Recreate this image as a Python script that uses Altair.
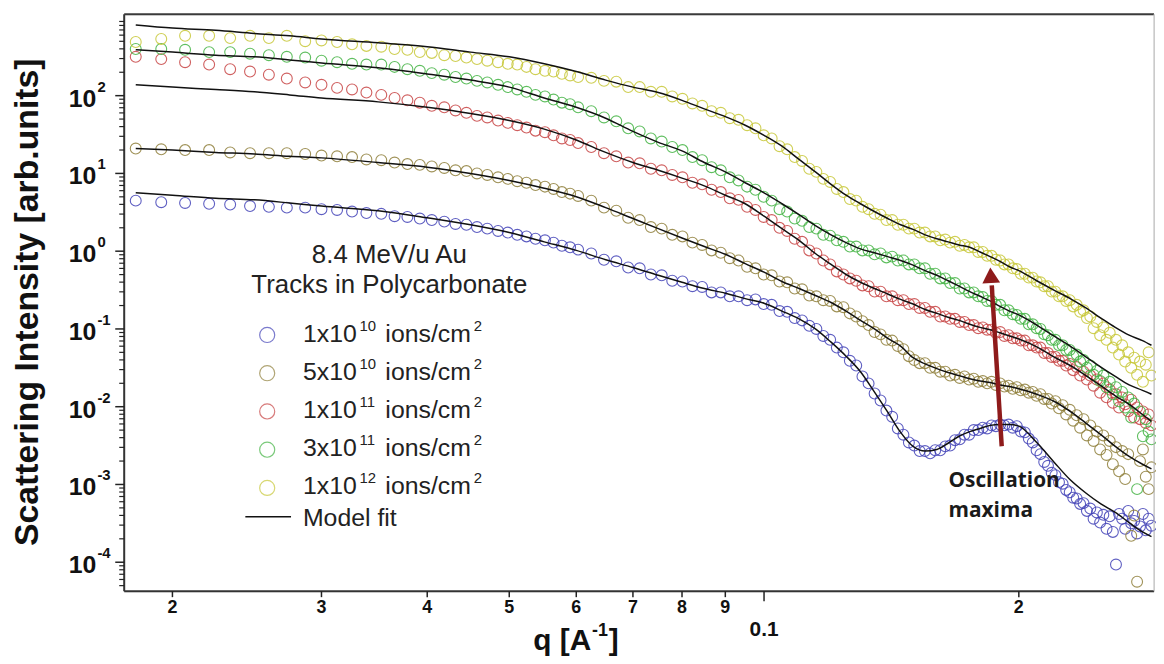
import altair as alt
import pandas as pd

SERIES = ["1x10^10", "5x10^10", "1x10^11", "3x10^11", "1x10^12"]
COLORS = ["#4343b8", "#8f7f3a", "#c84444", "#44b444", "#c8c838"]

# ---------------- model fits: q and log10(intensity) ----------------
Q_FIT = [0.0181, 0.02, 0.0225, 0.025, 0.0275, 0.03, 0.035, 0.04, 0.045, 0.05, 0.055, 0.06,
         0.065, 0.07, 0.075, 0.08, 0.085, 0.09, 0.095, 0.1, 0.105, 0.11, 0.115, 0.12, 0.125,
         0.13, 0.135, 0.14, 0.145, 0.15, 0.155, 0.16, 0.165, 0.17, 0.175, 0.18, 0.185, 0.19,
         0.195, 0.2, 0.21, 0.22, 0.23, 0.24, 0.25, 0.26, 0.27, 0.28, 0.2869]
FIT_1E12 = [2.91, 2.87, 2.84, 2.80, 2.77, 2.73, 2.68, 2.63, 2.56, 2.50,
            2.41, 2.31, 2.20, 2.11, 2.04, 1.94, 1.83, 1.73, 1.62, 1.49,
            1.35, 1.18, 1.02, 0.86, 0.72, 0.61, 0.51, 0.42, 0.34, 0.28,
            0.21, 0.16, 0.12, 0.08, 0.05, -0.01, -0.07, -0.13, -0.20, -0.25,
            -0.38, -0.50, -0.61, -0.73, -0.86, -0.98, -1.08, -1.15, -1.21]
FIT_3E11 = [2.59, 2.56, 2.52, 2.50, 2.46, 2.42, 2.36, 2.28, 2.20, 2.11,
            1.97, 1.85, 1.71, 1.54, 1.40, 1.29, 1.14, 1.02, 0.88, 0.75,
            0.61, 0.47, 0.33, 0.21, 0.11, 0.03, -0.02, -0.07, -0.12, -0.18,
            -0.25, -0.31, -0.38, -0.45, -0.52, -0.58, -0.64, -0.71, -0.77, -0.82,
            -0.95, -1.09, -1.22, -1.36, -1.49, -1.61, -1.72, -1.79, -1.84]
FIT_1E11 = [2.14, 2.11, 2.08, 2.05, 2.01, 1.97, 1.92, 1.85, 1.77, 1.68,
            1.57, 1.43, 1.27, 1.14, 1.04, 0.94, 0.84, 0.72, 0.61, 0.45,
            0.29, 0.14, -0.03, -0.17, -0.30, -0.40, -0.48, -0.55, -0.62, -0.68,
            -0.75, -0.80, -0.85, -0.89, -0.94, -0.98, -1.01, -1.05, -1.09, -1.13,
            -1.23, -1.36, -1.47, -1.60, -1.73, -1.86, -1.97, -2.10, -2.19]
FIT_5E10 = [1.32, 1.30, 1.27, 1.25, 1.22, 1.20, 1.14, 1.08, 1.00, 0.91,
            0.81, 0.70, 0.56, 0.42, 0.29, 0.17, 0.06, -0.04, -0.16, -0.27,
            -0.39, -0.48, -0.57, -0.66, -0.77, -0.89, -1.00, -1.12, -1.22, -1.37,
            -1.45, -1.51, -1.56, -1.60, -1.64, -1.67, -1.69, -1.72, -1.74, -1.77,
            -1.84, -1.93, -2.06, -2.21, -2.36, -2.51, -2.64, -2.74, -2.80]
FIT_1E10 = [0.75, 0.72, 0.68, 0.66, 0.62, 0.58, 0.52, 0.43, 0.34, 0.24,
            0.12, 0.01, -0.11, -0.21, -0.31, -0.40, -0.48, -0.54, -0.61, -0.67,
            -0.77, -0.87, -1.00, -1.17, -1.35, -1.55, -1.81, -2.07, -2.33, -2.51,
            -2.57, -2.55, -2.47, -2.38, -2.32, -2.28, -2.24, -2.23, -2.23, -2.25,
            -2.46, -2.71, -2.94, -3.11, -3.25, -3.36, -3.49, -3.61, -3.67]

# ---------------- measured points: q and log10(intensity) ----------------
Q_DATA = [0.0181, 0.0194, 0.0207, 0.0221, 0.0234, 0.0247, 0.0260, 0.0273, 0.0287, 0.0300,
          0.0313, 0.0326, 0.0339, 0.0353, 0.0366, 0.0379, 0.0392, 0.0405, 0.0419, 0.0432,
          0.0445, 0.0458, 0.0471, 0.0485, 0.0498, 0.0511, 0.0524, 0.0537, 0.0551, 0.0564,
          0.0577, 0.0590, 0.0603,
          0.0625, 0.0647, 0.0669, 0.0691, 0.0713, 0.0735, 0.0757, 0.0779, 0.0801, 0.0823,
          0.0845, 0.0867, 0.0889, 0.0911, 0.0933, 0.0955, 0.0977, 0.0999, 0.1021, 0.1043,
          0.1065, 0.1087, 0.1109, 0.1131, 0.1153, 0.1175, 0.1197, 0.1219, 0.1241, 0.1263,
          0.1285, 0.1307, 0.1329, 0.1351, 0.1373, 0.1395, 0.1417, 0.1439, 0.1461, 0.1483,
          0.1505, 0.1527, 0.1549, 0.1571, 0.1593, 0.1615, 0.1637, 0.1659, 0.1681, 0.1703,
          0.1725, 0.1747, 0.1769, 0.1791, 0.1813, 0.1835, 0.1857, 0.1879, 0.1901, 0.1923,
          0.1945, 0.1967, 0.1989, 0.2011, 0.2033, 0.2055, 0.2077, 0.2099, 0.2121, 0.2143,
          0.2165, 0.2187, 0.2209, 0.2231, 0.2253, 0.2275, 0.2297, 0.2319, 0.2341, 0.2363,
          0.2385, 0.2407, 0.2429, 0.2451, 0.2473, 0.2495, 0.2517, 0.2539, 0.2561, 0.2583,
          0.2605, 0.2627, 0.2649, 0.2671, 0.2693, 0.2715, 0.2737, 0.2759, 0.2781, 0.2803,
          0.2825, 0.2847, 0.2869]

DAT_1E12 = [2.69, 2.73, 2.77, 2.77, 2.74, 2.77, 2.74, 2.77, 2.70, 2.71,
            2.69, 2.66, 2.64, 2.63, 2.60, 2.59, 2.56, 2.55, 2.52, 2.51,
            2.49, 2.47, 2.45, 2.43, 2.41, 2.40, 2.37, 2.34, 2.32, 2.31,
            2.28, 2.26, 2.24,
            2.23, 2.19, 2.18, 2.11, 2.11, 2.05, 2.05, 1.99, 1.96, 1.90,
            1.87, 1.80, 1.78, 1.71, 1.69, 1.62, 1.58, 1.49, 1.45, 1.35,
            1.31, 1.21, 1.16, 1.06, 1.02, 0.93, 0.89, 0.80, 0.76, 0.67,
            0.65, 0.57, 0.54, 0.48, 0.47, 0.40, 0.40, 0.34, 0.34, 0.29,
            0.29, 0.24, 0.24, 0.19, 0.19, 0.14, 0.15, 0.11, 0.12, 0.07,
            0.08, 0.05, 0.05, -0.01, -0.01, -0.06, -0.06, -0.11, -0.12, -0.17,
            -0.17, -0.22, -0.23, -0.29, -0.29, -0.34, -0.34, -0.39, -0.40, -0.45,
            -0.45, -0.52, -0.52, -0.58, -0.58, -0.64, -0.63, -0.71, -0.69, -0.78,
            -0.76, -0.86, -0.84, -0.99, -0.91, -1.08, -0.98, -1.14, -1.05, -1.24,
            -1.14, -1.33, -1.21, -1.42, -1.30, -1.50, -1.37, -1.59, -1.42, -1.68,
            -1.46, -1.30, -1.60]
DAT_3E11 = [2.60, 2.60, 2.59, 2.56, 2.56, 2.54, 2.52, 2.50, 2.49, 2.45,
            2.43, 2.41, 2.40, 2.40, 2.37, 2.34, 2.32, 2.29, 2.27, 2.24,
            2.22, 2.19, 2.17, 2.14, 2.11, 2.08, 2.05, 2.01, 1.99, 1.95,
            1.91, 1.89, 1.85,
            1.80, 1.72, 1.67, 1.58, 1.54, 1.45, 1.41, 1.34, 1.30, 1.21,
            1.17, 1.08, 1.04, 0.95, 0.91, 0.83, 0.79, 0.70, 0.65, 0.54,
            0.51, 0.42, 0.39, 0.31, 0.29, 0.21, 0.20, 0.14, 0.12, 0.06,
            0.06, 0.01, 0.01, -0.04, -0.03, -0.08, -0.07, -0.12, -0.12, -0.17,
            -0.17, -0.22, -0.22, -0.29, -0.29, -0.35, -0.35, -0.41, -0.41, -0.48,
            -0.48, -0.53, -0.53, -0.58, -0.59, -0.64, -0.64, -0.69, -0.69, -0.76,
            -0.76, -0.81, -0.82, -0.87, -0.87, -0.94, -0.94, -0.99, -1.00, -1.07,
            -1.08, -1.14, -1.14, -1.21, -1.21, -1.27, -1.27, -1.35, -1.33, -1.42,
            -1.40, -1.50, -1.47, -1.59, -1.54, -1.67, -1.60, -1.75, -1.68, -1.84,
            -1.75, -1.93, -1.81, -2.01, -1.88, -2.14, -1.96, -3.06, -2.06, -2.38,
            -2.16, -2.32, -2.42]
DAT_1E11 = [2.50, 2.47, 2.43, 2.40, 2.34, 2.31, 2.27, 2.22, 2.17, 2.14,
            2.10, 2.08, 2.04, 2.01, 1.97, 1.94, 1.91, 1.87, 1.85, 1.81,
            1.78, 1.74, 1.72, 1.68, 1.65, 1.62, 1.59, 1.55, 1.53, 1.49,
            1.45, 1.43, 1.39,
            1.34, 1.26, 1.22, 1.14, 1.13, 1.06, 1.04, 0.98, 0.95, 0.88,
            0.86, 0.79, 0.76, 0.68, 0.66, 0.57, 0.53, 0.44, 0.40, 0.30,
            0.26, 0.16, 0.12, 0.01, -0.03, -0.12, -0.17, -0.26, -0.30, -0.35,
            -0.38, -0.44, -0.45, -0.52, -0.52, -0.58, -0.58, -0.63, -0.63, -0.68,
            -0.68, -0.73, -0.73, -0.78, -0.78, -0.84, -0.84, -0.87, -0.87, -0.91,
            -0.91, -0.95, -0.95, -0.99, -0.98, -1.01, -1.01, -1.05, -1.04, -1.09,
            -1.08, -1.12, -1.12, -1.15, -1.15, -1.21, -1.21, -1.24, -1.24, -1.31,
            -1.31, -1.36, -1.36, -1.41, -1.41, -1.47, -1.45, -1.53, -1.49, -1.60,
            -1.55, -1.65, -1.60, -1.73, -1.65, -1.82, -1.70, -1.88, -1.78, -1.95,
            -1.84, -2.01, -1.88, -1.97, -2.06, -1.91, -2.14, -2.01, -2.16, -2.06,
            -2.21, -2.10, -2.24]
DAT_5E10 = [1.32, 1.31, 1.30, 1.30, 1.27, 1.26, 1.26, 1.26, 1.25, 1.23,
            1.22, 1.21, 1.18, 1.17, 1.14, 1.12, 1.11, 1.09, 1.07, 1.04,
            1.03, 1.00, 0.98, 0.95, 0.93, 0.90, 0.88, 0.85, 0.83, 0.80,
            0.76, 0.74, 0.71,
            0.65, 0.56, 0.52, 0.43, 0.40, 0.31, 0.29, 0.21, 0.19, 0.11,
            0.08, 0.01, -0.02, -0.09, -0.12, -0.20, -0.22, -0.30, -0.31, -0.39,
            -0.40, -0.48, -0.49, -0.57, -0.58, -0.63, -0.64, -0.71, -0.72, -0.80,
            -0.84, -0.90, -0.95, -1.04, -1.07, -1.14, -1.15, -1.22, -1.26, -1.35,
            -1.40, -1.44, -1.44, -1.50, -1.50, -1.55, -1.55, -1.60, -1.59, -1.63,
            -1.61, -1.65, -1.64, -1.68, -1.67, -1.70, -1.68, -1.72, -1.70, -1.74,
            -1.73, -1.77, -1.75, -1.79, -1.78, -1.82, -1.81, -1.86, -1.84, -1.90,
            -1.90, -1.96, -1.93, -2.02, -1.98, -2.10, -2.04, -2.18, -2.11, -2.27,
            -2.16, -2.37, -2.24, -2.44, -2.32, -2.55, -2.37, -2.62, -2.44, -2.74,
            -2.52, -2.83, -2.57, -2.93, -2.61, -3.66, -3.40, -4.25, -2.70, -2.55,
            -2.90, -3.06, -2.78]
DAT_1E10 = [0.65, 0.63, 0.62, 0.61, 0.60, 0.58, 0.57, 0.56, 0.56, 0.54,
            0.53, 0.51, 0.49, 0.48, 0.45, 0.44, 0.42, 0.40, 0.38, 0.35,
            0.34, 0.31, 0.29, 0.26, 0.24, 0.21, 0.19, 0.16, 0.14, 0.11,
            0.07, 0.05, 0.02,
            -0.03, -0.11, -0.13, -0.21, -0.22, -0.30, -0.31, -0.38, -0.39, -0.45,
            -0.46, -0.53, -0.53, -0.58, -0.58, -0.63, -0.62, -0.68, -0.69, -0.77,
            -0.78, -0.86, -0.89, -0.96, -1.00, -1.09, -1.14, -1.24, -1.30, -1.41,
            -1.47, -1.61, -1.70, -1.83, -1.92, -2.05, -2.13, -2.28, -2.36, -2.46,
            -2.50, -2.57, -2.57, -2.60, -2.56, -2.56, -2.51, -2.50, -2.43, -2.42,
            -2.36, -2.36, -2.30, -2.30, -2.27, -2.28, -2.24, -2.25, -2.23, -2.24,
            -2.23, -2.27, -2.25, -2.32, -2.33, -2.41, -2.46, -2.56, -2.61, -2.71,
            -2.76, -2.85, -2.88, -2.97, -2.99, -3.07, -3.10, -3.17, -3.18, -3.25,
            -3.24, -3.34, -3.31, -3.44, -3.36, -3.49, -3.39, -3.57, -3.41, -3.61,
            -4.03, -3.38, -3.44, -3.57, -3.34, -3.50, -3.47, -3.63, -3.54, -3.38,
            -3.59, -3.44, -3.53]

Y_DECADES = [-4, -3, -2, -1, 0, 1, 2]
X_TICKS = [0.02, 0.03, 0.04, 0.05, 0.06, 0.07, 0.08, 0.09, 0.2]
X_TICK_TEXT = ["2", "3", "4", "5", "6", "7", "8", "9", "2"]
LEGEND_BASE = ["1x10", "5x10", "1x10", "3x10", "1x10"]
LEGEND_EXP = ["10", "10", "11", "11", "12"]

W, H = 1037, 581
xs = alt.Scale(type="log", domain=[0.01754, 0.2889], nice=False)
ys = alt.Scale(type="log", domain=[4.24e-5, 1115], nice=False)
FONT = "Liberation Sans"

fits, pts = [], []
for s, f, d in zip(SERIES, [FIT_1E10, FIT_5E10, FIT_1E11, FIT_3E11, FIT_1E12],
                   [DAT_1E10, DAT_5E10, DAT_1E11, DAT_3E11, DAT_1E12]):
    for q, v in zip(Q_FIT, f):
        fits.append({"series": s, "q": q, "I": 10 ** v})
    for q, v in zip(Q_DATA, d):
        pts.append({"series": s, "q": q, "I": 10 ** v})
fit_df = pd.DataFrame(fits)
pts_df = pd.DataFrame(pts)

X = alt.X("q:Q", scale=xs, axis=None)
Y = alt.Y("I:Q", scale=ys, axis=None)
cscale = alt.Scale(domain=SERIES, range=COLORS)

points = alt.Chart(pts_df).mark_point(shape="circle", filled=False, size=120, strokeWidth=1.1,
                                      opacity=0.85).encode(
    x=X, y=Y, color=alt.Color("series:N", scale=cscale, legend=None))
lines = alt.Chart(fit_df).mark_line(color="#111", strokeWidth=1.5, interpolate="monotone").encode(
    x=X, y=Y, detail="series:N")

# frame
one = pd.DataFrame({"a": [0]})
frame = [
    alt.Chart(one).mark_rule(color="#333", strokeWidth=2).encode(x=alt.value(0), y=alt.value(0), y2=alt.value(H)),
    alt.Chart(one).mark_rule(color="#333", strokeWidth=2).encode(x=alt.value(0), x2=alt.value(W), y=alt.value(H)),
    alt.Chart(one).mark_rule(color="#3a3a3a", strokeWidth=2).encode(x=alt.value(0), x2=alt.value(W), y=alt.value(0)),
    alt.Chart(one).mark_rule(color="#b8b8b8", strokeWidth=1).encode(x=alt.value(W), y=alt.value(0), y2=alt.value(H)),
]

# axis ticks and labels
maj_df = pd.DataFrame({"v": [10.0 ** d for d in Y_DECADES]})
minor_vals = [m * 10.0 ** d for d in range(-5, 3) for m in range(2, 10)]
minor_vals = [v for v in minor_vals if 4.3e-5 < v < 1000]
min_df = pd.DataFrame({"v": minor_vals})
ymaj = alt.Chart(maj_df).mark_rule(color="#222", strokeWidth=1.5).encode(
    y=alt.Y("v:Q", scale=ys, axis=None), x=alt.value(-9), x2=alt.value(0))
ymin = alt.Chart(min_df).mark_rule(color="#222", strokeWidth=1.2).encode(
    y=alt.Y("v:Q", scale=ys, axis=None), x=alt.value(-5), x2=alt.value(0))
ylab_df = pd.DataFrame({"v": [10.0 ** d for d in Y_DECADES], "e": [str(d) for d in Y_DECADES]})
ylab = alt.Chart(ylab_df).mark_text(align="right", baseline="middle", fontSize=25, fontWeight="bold",
                                    font=FONT, dy=3, color="#111").encode(
    y=alt.Y("v:Q", scale=ys, axis=None), x=alt.value(-28), text=alt.value("10"))
yexp = alt.Chart(ylab_df).mark_text(align="left", baseline="middle", fontSize=15, fontWeight="bold",
                                    font=FONT, dy=-9, color="#111").encode(
    y=alt.Y("v:Q", scale=ys, axis=None), x=alt.value(-27), text="e:N")

xt_df = pd.DataFrame({"q": X_TICKS, "t": X_TICK_TEXT})
xtick = alt.Chart(xt_df).mark_rule(color="#222", strokeWidth=1.5).encode(
    x=alt.X("q:Q", scale=xs, axis=None), y=alt.value(H), y2=alt.value(H + 6))
xlab = alt.Chart(xt_df).mark_text(baseline="middle", fontSize=18, fontWeight="bold",
                                  font="Liberation Sans Narrow, Liberation Sans", color="#111").encode(
    x=alt.X("q:Q", scale=xs, axis=None), y=alt.value(H + 17), text="t:N")
x01_df = pd.DataFrame({"q": [0.1], "t": ["0.1"]})
x01tick = alt.Chart(x01_df).mark_rule(color="#222", strokeWidth=1.5).encode(
    x=alt.X("q:Q", scale=xs, axis=None), y=alt.value(H), y2=alt.value(H + 10))
x01lab = alt.Chart(x01_df).mark_text(baseline="middle", fontSize=21, fontWeight="bold",
                                     font="Liberation Sans Narrow, Liberation Sans", color="#111").encode(
    x=alt.X("q:Q", scale=xs, axis=None), y=alt.value(H + 39), text="t:N")


def txt(s, x, y, size, weight="normal", align="left", font=FONT, angle=0, color="#222"):
    kw = dict(align=align, baseline="alphabetic", fontSize=size, fontWeight=weight, font=font, color=color)
    if angle:
        kw["angle"] = angle
        kw["baseline"] = "middle"
    return alt.Chart(pd.DataFrame({"a": [0]})).mark_text(**kw).encode(
        x=alt.value(x), y=alt.value(y), text=alt.value(s))


titles = [
    txt("Scattering Intensity [arb.units]", -97, 290, 34, "bold", "center", angle=270, color="#111"),
    txt("q [A", 412, 640, 30, "bold", color="#111"),
    txt("-1", 471, 626, 18, "bold", color="#111"),
    txt("]", 488, 640, 30, "bold", color="#111"),
    txt("8.4 MeV/u Au", 267, 251, 26, align="center"),
    txt("Tracks in Polycarbonate", 267, 281, 26, align="center"),
    txt("Model fit", 180, 515, 25),
    txt("Oscillation", 830, 476, 21, "bold", font="Open Sans", color="#1a1a1a"),
    txt("maxima", 830, 506, 21, "bold", font="Open Sans", color="#1a1a1a"),
]
for i in range(5):
    base_y = 330 + i * 38.3
    titles.append(txt(LEGEND_BASE[i], 180, base_y, 25))
    titles.append(txt(LEGEND_EXP[i], 237, base_y - 11, 15))
    titles.append(txt("ions/cm", 263, base_y, 25))
    titles.append(txt("2", 352, base_y - 11, 15))

leg_df = pd.DataFrame({"series": SERIES, "yy": [323 + i * 38.5 for i in range(5)]})
leg_pts = alt.Chart(leg_df).mark_point(shape="circle", filled=False, size=230, strokeWidth=1.2).encode(
    x=alt.value(144), y=alt.Y("yy:Q", scale=None, axis=None),
    color=alt.Color("series:N", scale=cscale, legend=None))
leg_line = alt.Chart(one).mark_rule(color="#111", strokeWidth=1.5).encode(
    x=alt.value(122), x2=alt.value(168), y=alt.value(506))

# arrow (data coordinates)
arrow_df = pd.DataFrame({"q": [0.1909], "I": [0.0031], "q2": [0.1858], "I2": [0.364]})
shaft = alt.Chart(arrow_df).mark_rule(color="#8e1b1b", strokeWidth=4.5).encode(
    x=alt.X("q:Q", scale=xs, axis=None), y=alt.Y("I:Q", scale=ys, axis=None), x2="q2:Q", y2="I2:Q")
head_df = pd.DataFrame({"q": [0.1853], "I": [0.49]})
head = alt.Chart(head_df).mark_point(shape="triangle-up", filled=True, size=320, color="#8e1b1b",
                                     opacity=1, angle=356.5).encode(
    x=alt.X("q:Q", scale=xs, axis=None), y=alt.Y("I:Q", scale=ys, axis=None))

chart = alt.layer(points, lines, shaft, head, *frame, ymaj, ymin, ylab, yexp, xtick, xlab, x01tick, x01lab,
                  leg_pts, leg_line, *titles).properties(
    width=W, height=H, autosize=alt.AutoSizeParams(type="none"),
    padding={"left": 117, "top": 4, "right": 2, "bottom": 66},
).configure_view(stroke=None).configure(background="white")

chart.save("out.html", embed_options={"renderer": "svg", "actions": False})
